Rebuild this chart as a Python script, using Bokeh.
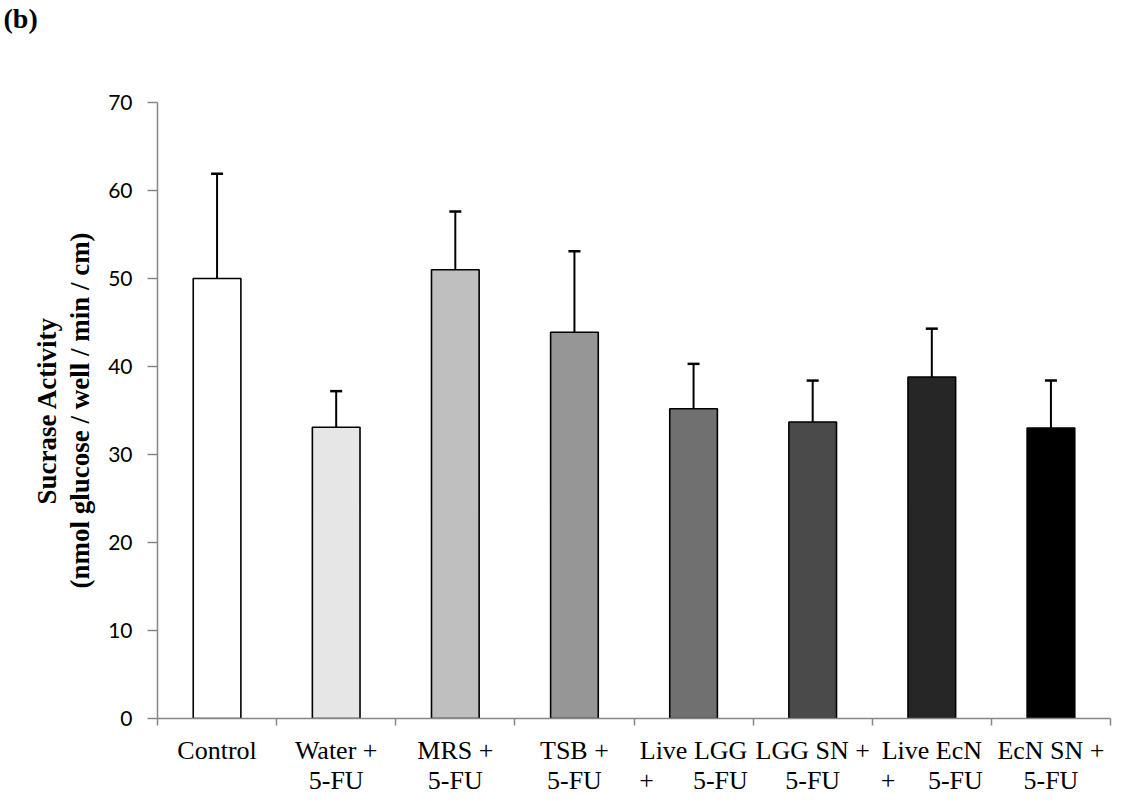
from bokeh.plotting import figure
from bokeh.models import Range1d, FixedTicker, Whisker, ColumnDataSource, TeeHead
from bokeh.embed import file_html
from bokeh.resources import INLINE

NB = "\u00a0"
categories = ["Control", "Water +\n5-FU", "MRS +\n5-FU", "TSB +\n5-FU",
              "Live LGG\n+" + NB * 6 + "5-FU", "LGG SN +\n5-FU",
              "Live EcN\n+" + NB * 5 + "5-FU", "EcN SN +\n5-FU"]
means = [50.0, 33.1, 51.0, 43.9, 35.2, 33.7, 38.8, 33.0]
errors = [11.9, 4.1, 6.6, 9.2, 5.1, 4.7, 5.5, 5.4]
fills = ["#ffffff", "#e6e6e6", "#bfbfbf", "#969696", "#707070", "#4a4a4a", "#262626", "#000000"]
y_ticks = [0, 10, 20, 30, 40, 50, 60, 70]
panel_label = "(b)"

n = len(categories)
centers = [i + 0.5 for i in range(n)]
bounds = [i for i in range(n + 1)]

src = ColumnDataSource(dict(x=centers, top=means, upper=[m + e for m, e in zip(means, errors)],
                            fill=fills))

p = figure(width=1126, height=804, x_range=Range1d(0, n), y_range=Range1d(0, 70),
           output_backend="svg", toolbar_location=None,
           min_border_left=157, min_border_right=16, min_border_top=102, min_border_bottom=86)
p.outline_line_color = None
p.xgrid.visible = False
p.ygrid.visible = False
p.background_fill_color = "white"
p.border_fill_color = "white"

# label pushed up by two blank lines beneath it
p.title.text = panel_label + "\n" + NB + "\n" + NB
p.title.align = "left"
p.title.offset = -154
p.title.standoff = 0
p.title.vertical_align = "top"
p.title.text_font = "Liberation Serif"
p.title.text_font_style = "bold"
p.title.text_font_size = "28px"
p.title.text_line_height = 1.08
p.title.text_color = "black"

p.vbar(x="x", top="top", bottom=0, width=0.40, source=src, fill_color="fill",
       line_color="black", line_width=1.6)

w = Whisker(base="x", lower="top", upper="upper", source=src, dimension="height",
            line_color="black", line_width=2,
            upper_head=TeeHead(size=12, line_color="black", line_width=2.5),
            lower_head=None)
p.add_layout(w)

axis_gray = "#868686"
xa = p.xaxis[0]
xa.ticker = FixedTicker(ticks=centers, minor_ticks=bounds)
xa.major_label_overrides = {c: lab for c, lab in zip(centers, categories)}
xa.major_tick_out = 0
xa.major_tick_in = 0
xa.minor_tick_out = 7
xa.minor_tick_in = 0
xa.minor_tick_line_color = axis_gray
xa.minor_tick_line_width = 1.5
xa.axis_line_color = axis_gray
xa.axis_line_width = 1.5
xa.major_label_text_font = "Liberation Serif"
xa.major_label_text_font_size = "26px"
xa.major_label_text_color = "black"
xa.major_label_text_line_height = 1.04
xa.major_label_standoff = 10

ya = p.yaxis[0]
ya.ticker = FixedTicker(ticks=y_ticks)
ya.minor_tick_line_color = None
ya.major_tick_out = 10
ya.major_tick_in = 0
ya.major_tick_line_color = axis_gray
ya.major_tick_line_width = 1.5
ya.axis_line_color = axis_gray
ya.axis_line_width = 1.5
ya.major_label_text_font = "Lato"
ya.major_label_text_font_size = "21px"
ya.major_label_text_color = "black"
ya.major_label_standoff = 15
ya.axis_label = "Sucrase Activity\n(nmol glucose / well / min / cm)"
ya.axis_label_text_font = "Liberation Serif"
ya.axis_label_text_font_style = "bold"
ya.axis_label_text_font_size = "27px"
ya.axis_label_text_color = "black"
ya.axis_label_text_line_height = 1.1
ya.axis_label_standoff = 10

open("out.html", "w").write(file_html(p, INLINE))
